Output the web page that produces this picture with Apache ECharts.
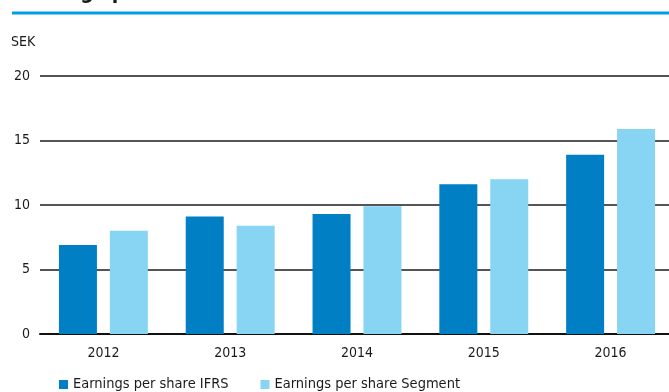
<!DOCTYPE html>
<html>
<head>
<meta charset="utf-8">
<script src="https://cdn.jsdelivr.net/npm/echarts@6/dist/echarts.min.js"></script>
<style>
  html, body { margin: 0; padding: 0; background: #fff; overflow: hidden; }
  #chart { width: 675px; height: 392px; }
</style>
</head>
<body>
<div id="chart"></div>
<script>
// Earnings per share, SEK, 2012–2016
const years = ['2012', '2013', '2014', '2015', '2016'];
const epsIFRS = [6.9, 9.1, 9.3, 11.6, 13.9];
const epsSegment = [8.0, 8.4, 9.9, 12.0, 15.9];
const yTicks = [0, 5, 10, 15, 20];

const FONT = '"DejaVu Sans Condensed", "DejaVu Sans", sans-serif';
const TEXT = '#1a1a1a';

const chart = echarts.init(document.getElementById('chart'), null, { renderer: 'canvas' });

chart.setOption({
  animation: false,
  textStyle: { fontFamily: FONT },
  graphic: [
    {
      // heading sits above the top edge; only its lowest strokes show
      type: 'text',
      x: 12, y: 4,
      style: {
        text: 'Earnings per share', fontSize: 21, fontWeight: 'bold',
        fill: TEXT, fontFamily: FONT, verticalAlign: 'bottom'
      }
    },
    {
      type: 'rect',
      shape: { x: 12, y: 11.5, width: 670, height: 3 },
      style: { fill: '#009fe3' }
    },
    {
      type: 'text',
      x: 11, y: 42,
      style: { text: 'SEK', fontSize: 14, fill: TEXT, fontFamily: FONT, verticalAlign: 'middle' }
    }
  ],
  legend: {
    bottom: -5,
    left: 54,
    itemWidth: 9,
    itemHeight: 9,
    itemGap: 32,
    icon: 'rect',
    textStyle: { fontSize: 14.5, color: TEXT, fontFamily: FONT },
    data: ['Earnings per share IFRS', 'Earnings per share Segment']
  },
  grid: { left: 40, top: 76, right: 1, height: 258, containLabel: false },
  xAxis: {
    type: 'category',
    data: years,
    axisLine: { show: true, lineStyle: { color: '#111', width: 2 } },
    axisTick: { show: false },
    axisLabel: { fontSize: 14, color: TEXT, margin: 12, fontFamily: FONT }
  },
  yAxis: {
    type: 'value',
    min: yTicks[0],
    max: yTicks[yTicks.length - 1],
    interval: 5,
    axisLine: { show: false },
    axisTick: { show: false },
    axisLabel: { fontSize: 14, color: TEXT, margin: 10, fontFamily: FONT },
    splitLine: { show: true, lineStyle: { color: '#555', width: 2 } }
  },
  series: [
    {
      name: 'Earnings per share IFRS',
      type: 'bar',
      data: epsIFRS,
      barWidth: 38,
      barGap: '34%',
      itemStyle: { color: '#007fc4' }
    },
    {
      name: 'Earnings per share Segment',
      type: 'bar',
      data: epsSegment,
      barWidth: 38,
      barGap: '34%',
      itemStyle: { color: '#87d4f3' }
    }
  ]
});
</script>
</body>
</html>
